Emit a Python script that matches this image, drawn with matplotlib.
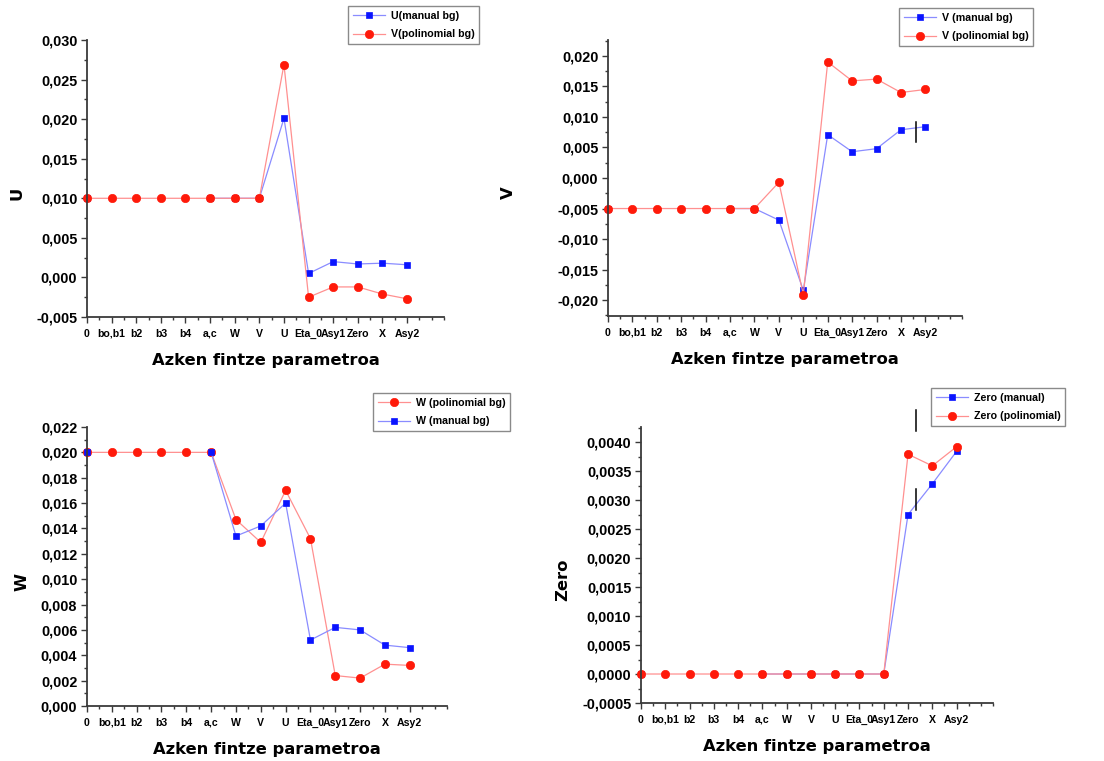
import numpy as np
import matplotlib.pyplot as plt
from matplotlib.ticker import MultipleLocator, FuncFormatter
from matplotlib.lines import Line2D

nan = np.nan

# parametro izenak x ardatzean
parametroak = ['0', 'bo,b1', 'b2', 'b3', 'b4', 'a,c', 'W', 'V', 'U',
               'Eta_0', 'Asy1', 'Zero', 'X', 'Asy2']

# U
U_manual = [0.010, nan, nan, nan, nan, 0.010, 0.010, 0.010, 0.0201,
            0.0005, 0.0020, 0.0017, 0.0018, 0.0016]
U_polinomial = [0.010, 0.010, 0.010, 0.010, 0.010, 0.010, 0.010, 0.010, 0.0269,
                -0.0025, -0.0012, -0.0012, -0.0021, -0.0027]

# V
V_manual = [-0.005, nan, nan, nan, nan, -0.005, -0.005, -0.0069, -0.0184,
            0.0071, 0.0043, 0.0048, 0.0079, 0.0084]
V_polinomial = [-0.005, -0.005, -0.005, -0.005, -0.005, -0.005, -0.005, -0.0007, -0.0191,
                0.0190, 0.0159, 0.0162, 0.0140, 0.0145]

# W
W_polinomial = [0.020, 0.020, 0.020, 0.020, 0.020, 0.020, 0.0147, 0.0129, 0.0170,
                0.0132, 0.0024, 0.0022, 0.0033, 0.0032]
W_manual = [0.020, nan, nan, nan, nan, 0.020, 0.0134, 0.0142, 0.0160,
            0.0052, 0.0062, 0.0060, 0.0048, 0.0046]

# Zero
Zero_manual = [0.0, nan, nan, nan, nan, 0.0, 0.0, 0.0, 0.0,
               0.0, 0.0, 0.00275, 0.00328, 0.00384]
Zero_polinomial = [0.0, 0.0, 0.0, 0.0, 0.0, 0.0, 0.0, 0.0, 0.0,
                   0.0, 0.0, 0.00379, 0.00359, 0.00392]

W_PX, H_PX = 1104, 761
fig = plt.figure(figsize=(W_PX / 100, H_PX / 100), dpi=100)
fig.patch.set_facecolor('white')

x = np.arange(len(parametroak))

BLUE, BLUE_L = '#0a14ff', '#8a8cff'
RED, RED_L = '#ff1a0a', '#ff9090'
AX_COL = '#3a3a3a'
TICK_FONT = 'Liberation Sans'


def px_rect(l, t, r, b):
    return [l / W_PX, 1 - b / H_PX, (r - l) / W_PX, (b - t) / H_PX]


def komaz(dec):
    def f(v, pos):
        if abs(v) < 1e-12:
            v = 0.0
        return f'{v:.{dec}f}'.replace('.', ',')
    return FuncFormatter(f)


def ardatza(rect, ylim, ystep, dec, ylabel, ylab_x):
    ax = fig.add_axes(px_rect(*rect))
    ax.set_xlim(0, 14.5)
    ax.set_ylim(*ylim)
    for s in ['top', 'right']:
        ax.spines[s].set_visible(False)
    for s in ['left', 'bottom']:
        ax.spines[s].set_color(AX_COL)
        ax.spines[s].set_linewidth(1.3)
    ax.set_xticks(x)
    ax.set_xticklabels(parametroak, fontfamily=TICK_FONT, fontweight='bold', fontsize=7.6)
    ax.xaxis.set_minor_locator(MultipleLocator(0.5))
    ax.yaxis.set_major_locator(MultipleLocator(ystep))
    ax.yaxis.set_minor_locator(MultipleLocator(ystep / 2))
    ax.yaxis.set_major_formatter(komaz(dec))
    for lab in ax.get_yticklabels():
        lab.set_fontfamily(TICK_FONT)
        lab.set_fontweight('bold')
        lab.set_fontsize(10.4)
    ax.tick_params(which='major', direction='out', length=4.5, width=1.0, color=AX_COL)
    ax.tick_params(which='minor', direction='out', length=2.5, width=1.0, color=AX_COL)
    ax.tick_params(axis='x', which='major', pad=4)
    ax.tick_params(axis='y', which='major', pad=2.5)
    ax.set_xlabel('Azken fintze parametroa', fontsize=11.8, fontweight='bold')
    ax.xaxis.set_label_coords(0.5, -0.13)
    ax.set_ylabel(ylabel, fontsize=11.8, fontweight='bold')
    ax.yaxis.set_label_coords(ylab_x, 0.445)
    ax.yaxis.label.set_va('center')
    return ax


def manual(ax, y, label, ms=5):
    return ax.plot(x, y, color=BLUE_L, lw=0.9, marker='s', ms=ms,
                   mfc=BLUE, mec=BLUE, mew=0.5, label=label, clip_on=False)[0]


def polinomial(ax, y, label):
    return ax.plot(x, y, color=RED_L, lw=0.9, marker='o', ms=6,
                   mfc=RED, mec=RED, mew=0.5, label=label, clip_on=False)[0]


def legenda(ax, handles, anchor_px):
    leg = ax.legend(handles=handles, loc='upper left',
                    bbox_to_anchor=(anchor_px[0] / W_PX, 1 - anchor_px[1] / H_PX),
                    bbox_transform=fig.transFigure, numpoints=1,
                    prop={'family': TICK_FONT, 'weight': 'bold', 'size': 7.7},
                    frameon=True, fancybox=False, framealpha=1, edgecolor='#8a8a8a',
                    handlelength=3.0, handletextpad=0.55, labelspacing=0.8,
                    borderpad=0.45, borderaxespad=0)
    leg.get_frame().set_linewidth(1.0)
    return leg


# --- U ---
ax1 = ardatza((87, 40, 444, 317), (-0.005, 0.030), 0.005, 3, 'U', -0.196)
h1 = manual(ax1, U_manual, 'U(manual bg)')
h2 = polinomial(ax1, U_polinomial, 'V(polinomial bg)')
legenda(ax1, [h1, h2], (348, 6))

# --- V ---
ax2 = ardatza((608, 40, 962, 316), (-0.0226, 0.0226), 0.005, 3, 'V', -0.28)
h1 = manual(ax2, V_manual, 'V (manual bg)')
h2 = polinomial(ax2, V_polinomial, 'V (polinomial bg)')
legenda(ax2, [h1, h2], (899, 8))

# --- W ---
ax3 = ardatza((87, 427, 447, 706), (0.0, 0.022), 0.002, 3, 'W', -0.18)
h2 = polinomial(ax3, W_polinomial, 'W (polinomial bg)')
h1 = manual(ax3, W_manual, 'W (manual bg)', ms=4)
legenda(ax3, [h2, h1], (373, 393))

# --- Zero ---
ax4 = ardatza((641, 427, 993, 703), (-0.0005, 0.00426), 0.0005, 4, 'Zero', -0.222)
h1 = manual(ax4, Zero_manual, 'Zero (manual)')
h2 = polinomial(ax4, Zero_polinomial, 'Zero (polinomial)')
legenda(ax4, [h1, h2], (931, 388))

# kurtsore marra txikiak
kurtsoreak = [(916, 122, 142), (916, 410, 431), (916, 489, 510)]
for kx, k0, k1 in kurtsoreak:
    fig.add_artist(Line2D([kx / W_PX, kx / W_PX], [1 - k0 / H_PX, 1 - k1 / H_PX],
                          transform=fig.transFigure, color='black', lw=1.1))

fig.savefig('out.png', dpi=100, facecolor='white')
